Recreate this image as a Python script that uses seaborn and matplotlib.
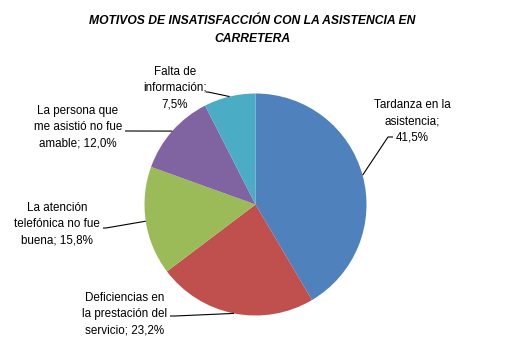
import numpy as np
import matplotlib
matplotlib.use("Agg")
import matplotlib.pyplot as plt
import seaborn as sns

# Survey results: reasons for dissatisfaction with roadside assistance
categories = [
    "Tardanza en la\nasistencia;",
    "Deficiencias en\nla prestación del\nservicio;",
    "La atención\ntelefónica no fue\nbuena;",
    "La persona que\nme asistió no fue\namable;",
    "Falta de\ninformación;",
]
values = [41.5, 23.2, 15.8, 12.0, 7.5]
colors = ["#4F81BD", "#C0504D", "#9BBB59", "#8064A2", "#4BACC6"]

title = "MOTIVOS DE INSATISFACCIÓN CON LA ASISTENCIA EN\nCARRETERA"

sns.set_theme(style="white")
plt.rcParams["font.family"] = ["Liberation Sans", "DejaVu Sans"]
plt.rcParams["text.color"] = "black"

W, H = 508, 348
fig = plt.figure(figsize=(W / 100, H / 100), dpi=100)
ax = fig.add_axes([0, 0, 1, 1])

cx, cy, r = 255.5, H - 204.5, 111

wedges, _ = ax.pie(
    values,
    colors=colors,
    startangle=90,
    counterclock=False,
    center=(cx, cy),
    radius=r,
    wedgeprops=dict(linewidth=0),
)
ax.set_xlim(0, W)
ax.set_ylim(0, H)
ax.set_aspect("equal")
ax.axis("off")


def fmt(v):
    return f"{v:.1f}".replace(".", ",") + "%"


# label block centre, and where the leader line leaves the label (pixel coords, y down)
label_layout = [
    dict(xy=(412, 121), joint=(393, 137), elbow=(388, 137), sep="\n"),
    dict(xy=(125, 314), joint=(170, 316), elbow=(175, 316), sep=" "),
    dict(xy=(57, 224), joint=(103, 228), elbow=(106, 228), sep=" "),
    dict(xy=(78, 127), joint=(125, 131), elbow=(125, 131), sep=" "),
    dict(xy=(175, 88), joint=(206, 92), elbow=(208, 92), sep="\n"),
]

for w, cat, v, lay in zip(wedges, categories, values, label_layout):
    mid = np.deg2rad((w.theta1 + w.theta2) / 2)
    ex = cx + r * np.cos(mid)
    ey = cy + r * np.sin(mid)
    tx, ty = lay["xy"]
    ax.text(tx, H - ty, cat + lay["sep"] + fmt(v), ha="center", va="center",
            multialignment="center", fontsize=8.4, linespacing=1.45,
            color="black")
    (jx, jy), (kx, ky) = lay["joint"], lay["elbow"]
    ax.plot([jx, kx, ex], [H - jy, H - ky, ey], color="black", lw=0.8,
            solid_capstyle="butt")

fig.text(252 / W, 1 - 30 / H, title, ha="center", va="center",
         fontsize=8.7, fontweight="bold", fontstyle="italic", linespacing=1.7,
         color="black")

fig.savefig("out.png", dpi=100)
